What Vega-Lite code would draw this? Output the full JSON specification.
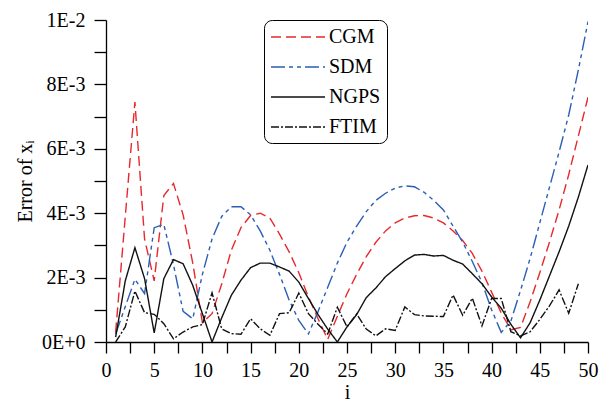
{
  "$schema": "https://vega.github.io/schema/vega-lite/v6.json",
  "width": 482,
  "height": 322,
  "autosize": {"type": "none"},
  "padding": {"left": 106, "top": 20, "right": 24, "bottom": 66},
  "background": "white",
  "config": {
    "view": {"stroke": null}
  },
  "data": {
    "values": [
      {"i": 1, "method": "CGM", "err": 0.0003},
      {"i": 2, "method": "CGM", "err": 0.0039},
      {"i": 3, "method": "CGM", "err": 0.00745},
      {"i": 4, "method": "CGM", "err": 0.0032},
      {"i": 5, "method": "CGM", "err": 0.0019},
      {"i": 6, "method": "CGM", "err": 0.00455},
      {"i": 7, "method": "CGM", "err": 0.00492},
      {"i": 8, "method": "CGM", "err": 0.00395},
      {"i": 9, "method": "CGM", "err": 0.00245},
      {"i": 10, "method": "CGM", "err": 0.0006},
      {"i": 11, "method": "CGM", "err": 0.00088},
      {"i": 12, "method": "CGM", "err": 0.0018},
      {"i": 13, "method": "CGM", "err": 0.00285},
      {"i": 14, "method": "CGM", "err": 0.00355},
      {"i": 15, "method": "CGM", "err": 0.00393},
      {"i": 16, "method": "CGM", "err": 0.004},
      {"i": 17, "method": "CGM", "err": 0.00385},
      {"i": 18, "method": "CGM", "err": 0.00335},
      {"i": 19, "method": "CGM", "err": 0.0028},
      {"i": 20, "method": "CGM", "err": 0.00215},
      {"i": 21, "method": "CGM", "err": 0.0014},
      {"i": 22, "method": "CGM", "err": 0.00072},
      {"i": 23, "method": "CGM", "err": 0.00008},
      {"i": 24, "method": "CGM", "err": 0.0008},
      {"i": 25, "method": "CGM", "err": 0.0015},
      {"i": 26, "method": "CGM", "err": 0.0021},
      {"i": 27, "method": "CGM", "err": 0.00265},
      {"i": 28, "method": "CGM", "err": 0.0031},
      {"i": 29, "method": "CGM", "err": 0.00345},
      {"i": 30, "method": "CGM", "err": 0.0037},
      {"i": 31, "method": "CGM", "err": 0.00385},
      {"i": 32, "method": "CGM", "err": 0.00392},
      {"i": 33, "method": "CGM", "err": 0.00393},
      {"i": 34, "method": "CGM", "err": 0.00385},
      {"i": 35, "method": "CGM", "err": 0.0037},
      {"i": 36, "method": "CGM", "err": 0.00345},
      {"i": 37, "method": "CGM", "err": 0.00315},
      {"i": 38, "method": "CGM", "err": 0.00275},
      {"i": 39, "method": "CGM", "err": 0.0022},
      {"i": 40, "method": "CGM", "err": 0.00155},
      {"i": 41, "method": "CGM", "err": 0.0009},
      {"i": 42, "method": "CGM", "err": 0.00038},
      {"i": 43, "method": "CGM", "err": 0.00045},
      {"i": 44, "method": "CGM", "err": 0.00125},
      {"i": 45, "method": "CGM", "err": 0.00215},
      {"i": 46, "method": "CGM", "err": 0.0031},
      {"i": 47, "method": "CGM", "err": 0.0041},
      {"i": 48, "method": "CGM", "err": 0.0052},
      {"i": 49, "method": "CGM", "err": 0.0064},
      {"i": 50, "method": "CGM", "err": 0.0076},
      {"i": 1, "method": "SDM", "err": 0.00025},
      {"i": 2, "method": "SDM", "err": 0.0011},
      {"i": 3, "method": "SDM", "err": 0.00195},
      {"i": 4, "method": "SDM", "err": 0.0015},
      {"i": 5, "method": "SDM", "err": 0.00355},
      {"i": 6, "method": "SDM", "err": 0.00365},
      {"i": 7, "method": "SDM", "err": 0.0024},
      {"i": 8, "method": "SDM", "err": 0.00095},
      {"i": 9, "method": "SDM", "err": 0.00072},
      {"i": 10, "method": "SDM", "err": 0.0021},
      {"i": 11, "method": "SDM", "err": 0.0032},
      {"i": 12, "method": "SDM", "err": 0.0039},
      {"i": 13, "method": "SDM", "err": 0.0042},
      {"i": 14, "method": "SDM", "err": 0.0042},
      {"i": 15, "method": "SDM", "err": 0.00395},
      {"i": 16, "method": "SDM", "err": 0.00345},
      {"i": 17, "method": "SDM", "err": 0.00285},
      {"i": 18, "method": "SDM", "err": 0.0021},
      {"i": 19, "method": "SDM", "err": 0.0013},
      {"i": 20, "method": "SDM", "err": 0.00067},
      {"i": 21, "method": "SDM", "err": 0.00025},
      {"i": 22, "method": "SDM", "err": 0.00095},
      {"i": 23, "method": "SDM", "err": 0.0017},
      {"i": 24, "method": "SDM", "err": 0.00245},
      {"i": 25, "method": "SDM", "err": 0.0031},
      {"i": 26, "method": "SDM", "err": 0.0036},
      {"i": 27, "method": "SDM", "err": 0.00405},
      {"i": 28, "method": "SDM", "err": 0.0044},
      {"i": 29, "method": "SDM", "err": 0.00462},
      {"i": 30, "method": "SDM", "err": 0.00478},
      {"i": 31, "method": "SDM", "err": 0.00485},
      {"i": 32, "method": "SDM", "err": 0.00482},
      {"i": 33, "method": "SDM", "err": 0.00465},
      {"i": 34, "method": "SDM", "err": 0.0044},
      {"i": 35, "method": "SDM", "err": 0.0041},
      {"i": 36, "method": "SDM", "err": 0.0036},
      {"i": 37, "method": "SDM", "err": 0.0031},
      {"i": 38, "method": "SDM", "err": 0.0025},
      {"i": 39, "method": "SDM", "err": 0.00185},
      {"i": 40, "method": "SDM", "err": 0.001},
      {"i": 41, "method": "SDM", "err": 0.0003},
      {"i": 42, "method": "SDM", "err": 0.00065},
      {"i": 43, "method": "SDM", "err": 0.0016},
      {"i": 44, "method": "SDM", "err": 0.0026},
      {"i": 45, "method": "SDM", "err": 0.0037},
      {"i": 46, "method": "SDM", "err": 0.0048},
      {"i": 47, "method": "SDM", "err": 0.0059},
      {"i": 48, "method": "SDM", "err": 0.00705},
      {"i": 49, "method": "SDM", "err": 0.00845},
      {"i": 50, "method": "SDM", "err": 0.00995},
      {"i": 1, "method": "NGPS", "err": 0.00015},
      {"i": 2, "method": "NGPS", "err": 0.0019},
      {"i": 3, "method": "NGPS", "err": 0.00293},
      {"i": 4, "method": "NGPS", "err": 0.00197},
      {"i": 5, "method": "NGPS", "err": 0.00028},
      {"i": 6, "method": "NGPS", "err": 0.00197},
      {"i": 7, "method": "NGPS", "err": 0.00256},
      {"i": 8, "method": "NGPS", "err": 0.00243},
      {"i": 9, "method": "NGPS", "err": 0.00176},
      {"i": 10, "method": "NGPS", "err": 0.00088},
      {"i": 11, "method": "NGPS", "err": 0.0},
      {"i": 12, "method": "NGPS", "err": 0.00075},
      {"i": 13, "method": "NGPS", "err": 0.00145},
      {"i": 14, "method": "NGPS", "err": 0.00192},
      {"i": 15, "method": "NGPS", "err": 0.00231},
      {"i": 16, "method": "NGPS", "err": 0.00245},
      {"i": 17, "method": "NGPS", "err": 0.00245},
      {"i": 18, "method": "NGPS", "err": 0.00233},
      {"i": 19, "method": "NGPS", "err": 0.0022},
      {"i": 20, "method": "NGPS", "err": 0.00186},
      {"i": 21, "method": "NGPS", "err": 0.00135},
      {"i": 22, "method": "NGPS", "err": 0.00085},
      {"i": 23, "method": "NGPS", "err": 0.0004},
      {"i": 24, "method": "NGPS", "err": 0.0},
      {"i": 25, "method": "NGPS", "err": 0.00047},
      {"i": 26, "method": "NGPS", "err": 0.00085},
      {"i": 27, "method": "NGPS", "err": 0.00138},
      {"i": 28, "method": "NGPS", "err": 0.00168},
      {"i": 29, "method": "NGPS", "err": 0.00203},
      {"i": 30, "method": "NGPS", "err": 0.00228},
      {"i": 31, "method": "NGPS", "err": 0.00252},
      {"i": 32, "method": "NGPS", "err": 0.0027},
      {"i": 33, "method": "NGPS", "err": 0.00272},
      {"i": 34, "method": "NGPS", "err": 0.00267},
      {"i": 35, "method": "NGPS", "err": 0.00269},
      {"i": 36, "method": "NGPS", "err": 0.00254},
      {"i": 37, "method": "NGPS", "err": 0.00242},
      {"i": 38, "method": "NGPS", "err": 0.00212},
      {"i": 39, "method": "NGPS", "err": 0.00181},
      {"i": 40, "method": "NGPS", "err": 0.0014},
      {"i": 41, "method": "NGPS", "err": 0.00105},
      {"i": 42, "method": "NGPS", "err": 0.00055},
      {"i": 43, "method": "NGPS", "err": 0.00013},
      {"i": 44, "method": "NGPS", "err": 0.0006},
      {"i": 45, "method": "NGPS", "err": 0.0013},
      {"i": 46, "method": "NGPS", "err": 0.00205},
      {"i": 47, "method": "NGPS", "err": 0.0028},
      {"i": 48, "method": "NGPS", "err": 0.0036},
      {"i": 49, "method": "NGPS", "err": 0.0045},
      {"i": 50, "method": "NGPS", "err": 0.0055},
      {"i": 1, "method": "FTIM", "err": 0.0},
      {"i": 2, "method": "FTIM", "err": 0.00047},
      {"i": 3, "method": "FTIM", "err": 0.00158},
      {"i": 4, "method": "FTIM", "err": 0.00091},
      {"i": 5, "method": "FTIM", "err": 0.00086},
      {"i": 6, "method": "FTIM", "err": 0.00057},
      {"i": 7, "method": "FTIM", "err": 0.0001},
      {"i": 8, "method": "FTIM", "err": 0.00031},
      {"i": 9, "method": "FTIM", "err": 0.00047},
      {"i": 10, "method": "FTIM", "err": 0.00054},
      {"i": 11, "method": "FTIM", "err": 0.00153},
      {"i": 12, "method": "FTIM", "err": 0.00041},
      {"i": 13, "method": "FTIM", "err": 0.00026},
      {"i": 14, "method": "FTIM", "err": 0.00024},
      {"i": 15, "method": "FTIM", "err": 0.00072},
      {"i": 16, "method": "FTIM", "err": 0.00041},
      {"i": 17, "method": "FTIM", "err": 0.00021},
      {"i": 18, "method": "FTIM", "err": 0.00088},
      {"i": 19, "method": "FTIM", "err": 0.00091},
      {"i": 20, "method": "FTIM", "err": 0.00152},
      {"i": 21, "method": "FTIM", "err": 0.00088},
      {"i": 22, "method": "FTIM", "err": 0.00055},
      {"i": 23, "method": "FTIM", "err": 0.00025},
      {"i": 24, "method": "FTIM", "err": 0.00108},
      {"i": 25, "method": "FTIM", "err": 0.00047},
      {"i": 26, "method": "FTIM", "err": 0.00087},
      {"i": 27, "method": "FTIM", "err": 0.0004},
      {"i": 28, "method": "FTIM", "err": 0.00019},
      {"i": 29, "method": "FTIM", "err": 0.00041},
      {"i": 30, "method": "FTIM", "err": 0.00036},
      {"i": 31, "method": "FTIM", "err": 0.00109},
      {"i": 32, "method": "FTIM", "err": 0.00085},
      {"i": 33, "method": "FTIM", "err": 0.00081},
      {"i": 34, "method": "FTIM", "err": 0.0008},
      {"i": 35, "method": "FTIM", "err": 0.00079},
      {"i": 36, "method": "FTIM", "err": 0.00146},
      {"i": 37, "method": "FTIM", "err": 0.00083},
      {"i": 38, "method": "FTIM", "err": 0.00136},
      {"i": 39, "method": "FTIM", "err": 0.0005},
      {"i": 40, "method": "FTIM", "err": 0.00135},
      {"i": 41, "method": "FTIM", "err": 0.00135},
      {"i": 42, "method": "FTIM", "err": 0.00032},
      {"i": 43, "method": "FTIM", "err": 0.00019},
      {"i": 44, "method": "FTIM", "err": 0.00032},
      {"i": 45, "method": "FTIM", "err": 0.0007},
      {"i": 46, "method": "FTIM", "err": 0.00112},
      {"i": 47, "method": "FTIM", "err": 0.00162},
      {"i": 48, "method": "FTIM", "err": 0.00089},
      {"i": 49, "method": "FTIM", "err": 0.00181}
    ]
  },
  "mark": {"type": "line", "clip": true},
  "encoding": {
    "x": {
      "field": "i",
      "type": "quantitative",
      "scale": {"domain": [0, 50], "nice": false, "zero": false},
      "axis": {
        "values": [0, 2.5, 5, 7.5, 10, 12.5, 15, 17.5, 20, 22.5, 25, 27.5, 30, 32.5, 35, 37.5, 40, 42.5, 45, 47.5, 50],
        "grid": false,
        "domainColor": "#000000",
        "domainWidth": 1.3,
        "ticks": true,
        "tickSize": 11,
        "tickColor": "black",
        "tickWidth": 1.3,
        "labelExpr": "datum.value % 5 == 0 ? datum.label : ''",
        "labelFont": "Liberation Serif",
        "labelFontSize": 20,
        "labelColor": "#000000",
        "labelPadding": 7,
        "labelFlush": false,
        "labelOverlap": false,
        "title": "i",
        "titleFont": "Liberation Serif",
        "titleFontSize": 20,
        "titleFontWeight": "normal",
        "titleColor": "#000000",
        "titlePadding": 2
      }
    },
    "y": {
      "field": "err",
      "type": "quantitative",
      "scale": {"domain": [0, 0.01], "nice": false},
      "axis": {
        "values": [0, 0.001, 0.002, 0.003, 0.004, 0.005, 0.006, 0.007, 0.008, 0.009, 0.01],
        "grid": false,
        "domainColor": "#000000",
        "domainWidth": 1.3,
        "ticks": true,
        "tickSize": 12,
        "tickColor": "black",
        "tickWidth": 1.3,
        "labelExpr": "round(datum.value*1000) % 2 == 1 ? '' : (datum.value == 0 ? '0E+0' : (datum.value > 0.0095 ? '1E-2' : round(datum.value*1000) + 'E-3'))",
        "labelFont": "Liberation Serif",
        "labelFontSize": 20,
        "labelColor": "#000000",
        "labelPadding": 9,
        "labelFlush": false,
        "labelOverlap": false,
        "title": "Error of xᵢ",
        "titleFont": "Liberation Serif",
        "titleFontSize": 20,
        "titleFontWeight": "normal",
        "titleColor": "#000000",
        "titlePadding": 6
      }
    },
    "color": {
      "field": "method",
      "type": "nominal",
      "sort": ["CGM", "SDM", "NGPS", "FTIM"],
      "scale": {"domain": ["CGM", "SDM", "NGPS", "FTIM"], "range": ["#e8282d", "#2a5fb5", "#111111", "#111111"]},
      "legend": {
        "title": null,
        "orient": "none",
        "legendX": 158,
        "legendY": 0,
        "padding": 6,
        "strokeColor": "#000000",
        "cornerRadius": 8,
        "rowPadding": 9,
        "symbolType": "M-2.7,0H2.7",
        "symbolSize": 400,
        "symbolOffset": 17,
        "labelOffset": 20,
        "labelFont": "Liberation Serif",
        "labelFontSize": 20,
        "labelColor": "#000000",
        "symbolStrokeWidth": 1.5,
        "fillColor": "white"
      }
    },
    "strokeDash": {
      "field": "method",
      "type": "nominal",
      "sort": ["CGM", "SDM", "NGPS", "FTIM"],
      "scale": {"domain": ["CGM", "SDM", "NGPS", "FTIM"], "range": [[10, 5], [14, 4, 4, 4, 4, 4], [1, 0], [8, 2, 2, 2]]},
      "legend": {
        "title": null,
        "orient": "none",
        "legendX": 158,
        "legendY": 0,
        "padding": 6,
        "strokeColor": "#000000",
        "cornerRadius": 8,
        "rowPadding": 9,
        "symbolType": "M-2.7,0H2.7",
        "symbolSize": 400,
        "symbolOffset": 17,
        "labelOffset": 20,
        "labelFont": "Liberation Serif",
        "labelFontSize": 20,
        "labelColor": "#000000",
        "symbolStrokeWidth": 1.5,
        "fillColor": "white"
      }
    },
    "strokeWidth": {
      "field": "method",
      "type": "nominal",
      "scale": {"domain": ["CGM", "SDM", "NGPS", "FTIM"], "range": [1.4, 1.4, 1.5, 0.9]},
      "legend": null
    }
  }
}
